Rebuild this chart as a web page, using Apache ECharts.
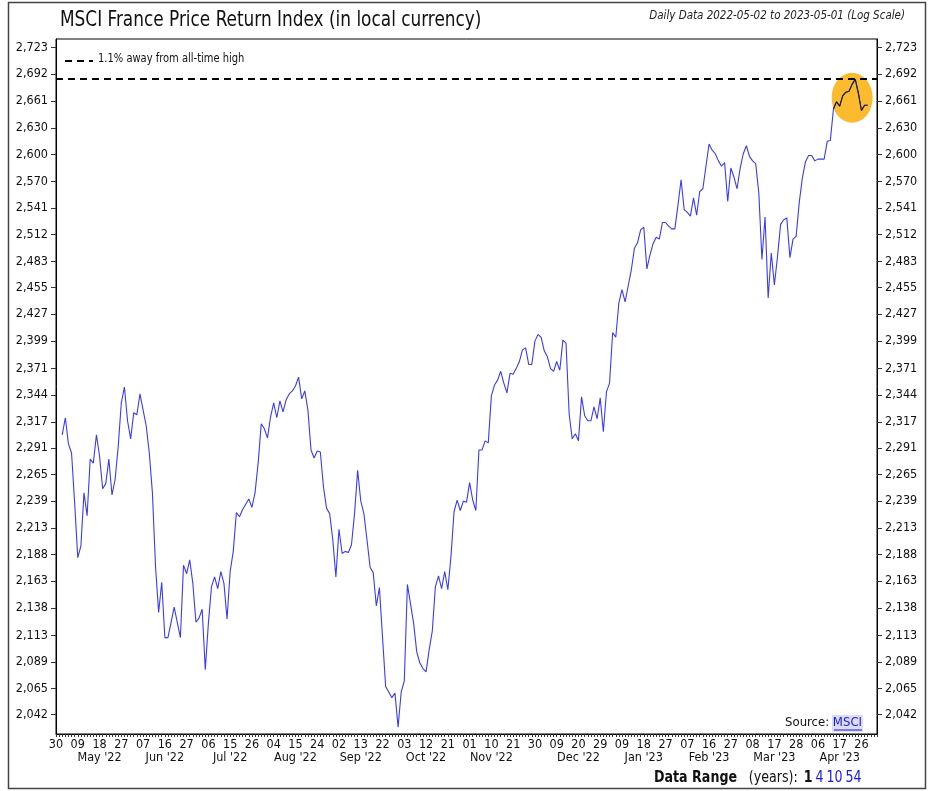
<!DOCTYPE html>
<html>
<head>
<meta charset="utf-8">
<title>MSCI France Price Return Index</title>
<script src="https://cdn.jsdelivr.net/npm/echarts@6/dist/echarts.min.js"></script>
<style>
html, body { margin: 0; padding: 0; background: #fff; }
#chart { width: 930px; height: 791px; }
</style>
</head>
<body>
<div id="chart"></div>
<script>
// daily index level, weekdays 2022-05-02 .. 2023-05-01
var prices = [
    2304, 2321, 2295, 2286, 2237, 2185, 2196, 2247, 2225, 2280, 2276, 2304, 2283,
    2251, 2256, 2280, 2245, 2260, 2292, 2336, 2352, 2318, 2300, 2326, 2324, 2345,
    2329, 2313, 2286, 2247, 2177, 2134, 2162, 2111, 2111, 2125, 2139, 2125, 2111,
    2178, 2170, 2183, 2161, 2125, 2129, 2137, 2082, 2124, 2158, 2167, 2156, 2172,
    2161, 2128, 2172, 2191, 2228, 2224, 2231, 2236, 2241, 2233, 2247, 2276, 2315,
    2310, 2301, 2322, 2336, 2321, 2338, 2327, 2339, 2345, 2348, 2353, 2362, 2340,
    2348, 2329, 2289, 2281, 2288, 2287, 2253, 2232, 2227, 2202, 2167, 2212, 2189,
    2191, 2190, 2197, 2227, 2269, 2239, 2227, 2202, 2176, 2171, 2140, 2157, 2111,
    2067, 2062, 2057, 2061, 2031, 2062, 2072, 2160, 2142, 2124, 2098, 2088, 2083,
    2080, 2100, 2117, 2158, 2168, 2156, 2172, 2155, 2186, 2229, 2240, 2230, 2239,
    2238, 2257, 2240, 2230, 2289, 2289, 2298, 2296, 2343, 2354, 2359, 2368, 2356,
    2346, 2366, 2365, 2371, 2378, 2390, 2392, 2375, 2375, 2399, 2406, 2403, 2389,
    2383, 2371, 2368, 2378, 2369, 2400, 2397, 2325, 2300, 2305, 2298, 2342, 2323,
    2318, 2318, 2332, 2320, 2341, 2307, 2347, 2356, 2408, 2403, 2439, 2453, 2440,
    2457, 2474, 2497, 2503, 2517, 2520, 2475, 2490, 2502, 2509, 2507, 2525, 2525,
    2521, 2518, 2518, 2544, 2572, 2539, 2536, 2532, 2552, 2533, 2559, 2562, 2587,
    2612, 2605, 2601, 2593, 2587, 2591, 2548, 2585, 2575, 2562, 2585, 2601, 2610,
    2598, 2593, 2590, 2557, 2485, 2531, 2444, 2492, 2458, 2488, 2523, 2528, 2530,
    2487, 2507, 2510, 2547, 2574, 2592, 2599, 2599, 2593, 2595, 2595, 2595, 2615,
    2616, 2652, 2660, 2655, 2667, 2671, 2672, 2680, 2686, 2670, 2650, 2656, 2656
];

// axis runs on weekdays, a couple of days either side of the data
var axisStart = [2022, 3, 28];
var padBefore = 2;
var padAfter = 3;

// labelled every 7th weekday
var xTickLabels = ['30', '09', '18', '27', '07', '16', '27', '06', '15', '26',
    '04', '15', '24', '02', '13', '22', '03', '12', '21', '01', '10', '21', '30',
    '09', '20', '29', '09', '18', '27', '07', '16', '27', '08', '17', '28', '06',
    '17', '26'];
var monthNames = ["May '22", "Jun '22", "Jul '22", "Aug '22", "Sep '22", "Oct '22",
    "Nov '22", "Dec '22", "Jan '23", "Feb '23", "Mar '23", "Apr '23"];
var monthTickSlots = [2, 5, 8, 11, 14, 17, 20, 24, 27, 30, 33, 36];

var yTickValues = [2042, 2065, 2089, 2113, 2138, 2163, 2188, 2213, 2239, 2265,
    2291, 2317, 2344, 2371, 2399, 2427, 2455, 2483, 2512, 2541, 2570, 2600, 2630,
    2661, 2692, 2723];
var yMin = 2025;
var yMax = 2733;

var highlightDays = 12;

var FONT = "'Liberation Sans Narrow', 'DejaVu Sans Condensed', 'Liberation Sans', sans-serif";

var categories = [];
var day = new Date(Date.UTC(axisStart[0], axisStart[1], axisStart[2]));
while (categories.length < padBefore + prices.length + padAfter) {
    var wd = day.getUTCDay();
    if (wd !== 0 && wd !== 6) categories.push(day.toISOString().slice(0, 10));
    day.setUTCDate(day.getUTCDate() + 1);
}
var lineData = categories.map(function (c, i) {
    var k = i - padBefore;
    return (k >= 0 && k < prices.length) ? prices[k] : null;
});

var athValue = Math.max.apply(null, prices);
var lastValue = prices[prices.length - 1];
var awayPct = ((athValue - lastValue) / athValue * 100).toFixed(1);

// last two weeks drawn in black inside the orange spot
var hlStart = padBefore + prices.length - highlightDays;
var recentData = lineData.map(function (v, i) { return i >= hlStart ? v : null; });
var hlValues = prices.slice(-highlightDays);
var hlMean = hlValues.reduce(function (a, b) { return a + b; }, 0) / hlValues.length;
var hlCenter = hlStart + (highlightDays - 1) / 2;

function fmtNum(v) {
    return String(Math.round(v)).replace(/\B(?=(\d{3})+(?!\d))/g, ',');
}

function yAxisCfg(pos) {
    return {
        type: 'log',
        position: pos,
        min: yMin,
        max: yMax,
        logBase: 10,
        axisLine: { show: true, lineStyle: { color: '#000', width: 1 } },
        axisTick: { show: true, length: 5, customValues: yTickValues, lineStyle: { color: '#333' } },
        axisLabel: {
            customValues: yTickValues,
            color: '#111',
            fontFamily: FONT,
            fontSize: 12.5,
            margin: 8,
            formatter: function (v) { return fmtNum(v); }
        },
        splitLine: { show: false }
    };
}

var myChart = echarts.init(document.getElementById('chart'));
myChart.setOption({
    animation: false,
    backgroundColor: '#fff',
    grid: {
        left: 56,
        right: 53,
        top: 39,
        bottom: 57,
        show: true,
        borderColor: '#000',
        borderWidth: 1
    },
    xAxis: [
        {
            type: 'category',
            data: categories,
            boundaryGap: false,
            axisLine: { lineStyle: { color: '#000', width: 1 } },
            axisTick: { show: true, interval: 0, length: 3, lineStyle: { color: '#333' } },
            axisLabel: {
                interval: function (idx) { return idx % 7 === 0; },
                showMinLabel: true,
                showMaxLabel: true,
                margin: 4,
                color: '#111',
                fontFamily: FONT,
                fontSize: 12.5,
                formatter: function (val, idx) { return xTickLabels[idx / 7] || ''; }
            },
            splitLine: { show: false }
        },
        {
            // month names sit under the tick nearest mid-month
            type: 'category',
            data: categories,
            boundaryGap: false,
            position: 'bottom',
            offset: 13,
            axisLine: { show: false },
            axisTick: { show: false },
            axisLabel: {
                interval: function (idx) {
                    return idx % 7 === 0 && monthTickSlots.indexOf(idx / 7) >= 0;
                },
                showMinLabel: true,
                showMaxLabel: true,
                margin: 4,
                color: '#111',
                fontFamily: FONT,
                fontSize: 12.5,
                formatter: function (val, idx) {
                    return monthNames[monthTickSlots.indexOf(idx / 7)] || '';
                }
            },
            splitLine: { show: false }
        }
    ],
    yAxis: [yAxisCfg('left'), yAxisCfg('right')],
    series: [
        {
            name: 'MSCI France',
            type: 'line',
            data: lineData,
            yAxisIndex: 0,
            showSymbol: false,
            symbol: 'none',
            z: 3,
            lineStyle: { width: 1.1, color: '#3a3af7' },
            markLine: {
                silent: true,
                symbol: 'none',
                label: { show: false },
                lineStyle: { color: '#000', type: [7, 5], width: 2 },
                emphasis: { disabled: true },
                data: [{ yAxis: athValue }]
            }
        },
        {
            name: 'recent',
            type: 'line',
            data: recentData,
            yAxisIndex: 0,
            showSymbol: false,
            symbol: 'none',
            z: 4,
            lineStyle: { width: 1.1, color: '#1c1c1c' }
        },
        {
            type: 'scatter',
            yAxisIndex: 0,
            data: [[hlCenter, hlMean]],
            symbol: 'circle',
            symbolSize: [41, 50],
            itemStyle: { color: '#fcbb2f', opacity: 1 },
            silent: true,
            z: 1
        }
    ],
    graphic: [
        {
            type: 'rect',
            shape: { x: 8.5, y: 2.5, width: 917, height: 786 },
            style: { fill: 'none', stroke: '#444', lineWidth: 1.5 },
            silent: true
        },
        {
            type: 'text',
            x: 60,
            y: 9,
            scaleX: 0.855,
            style: {
                text: 'MSCI France Price Return Index (in local currency)',
                font: '22px ' + FONT,
                fill: '#111',
                verticalAlign: 'top'
            }
        },
        {
            type: 'text',
            x: 905,
            y: 10,
            style: {
                text: 'Daily Data 2022-05-02 to 2023-05-01 (Log Scale)',
                font: 'italic 11.5px ' + FONT,
                fill: '#222',
                align: 'right',
                verticalAlign: 'top'
            }
        },
        {
            type: 'line',
            shape: { x1: 65, y1: 61, x2: 93, y2: 61 },
            style: { stroke: '#000', lineWidth: 2, lineDash: [7, 5] },
            silent: true
        },
        {
            type: 'text',
            x: 98,
            y: 53,
            scaleX: 0.92,
            style: {
                text: awayPct + '% away from all-time high',
                font: '12px ' + FONT,
                fill: '#111',
                verticalAlign: 'top'
            }
        },
        {
            type: 'rect',
            shape: { x: 832, y: 715, width: 31, height: 17 },
            style: { fill: '#dcdcf3' },
            silent: true
        },
        {
            type: 'text',
            x: 862,
            y: 716,
            style: {
                text: '{s|Source: }{l|MSCI}',
                align: 'right',
                verticalAlign: 'top',
                rich: {
                    s: { fontFamily: FONT, fontSize: 13, fill: '#111' },
                    l: { fontFamily: FONT, fontSize: 13, fill: '#1a1ae6' }
                }
            }
        },
        {
            type: 'line',
            shape: { x1: 834, y1: 730, x2: 862, y2: 730 },
            style: { stroke: '#1a1ae6', lineWidth: 1 },
            silent: true
        },
        {
            type: 'text',
            x: 654,
            y: 770,
            scaleX: 0.88,
            style: {
                text: '{b|Data Range}    {n|(years):}  {b|1} {l|4} {l|10} {l|54}',
                verticalAlign: 'top',
                rich: {
                    b: { fontFamily: FONT, fontSize: 16, fontWeight: 'bold', fill: '#111' },
                    n: { fontFamily: FONT, fontSize: 16, fill: '#111' },
                    l: { fontFamily: FONT, fontSize: 16, fill: '#1a1ae6' }
                }
            }
        }
    ]
});
</script>
</body>
</html>
